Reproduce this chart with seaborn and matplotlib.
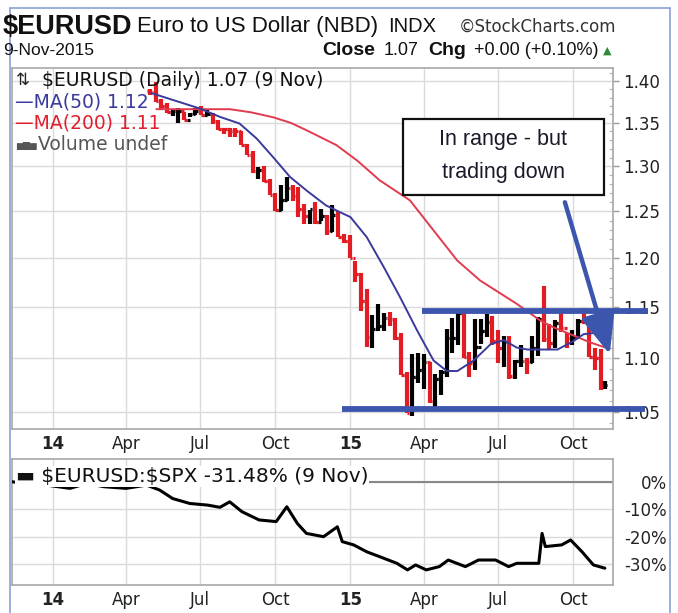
import matplotlib
matplotlib.use('Agg')
import matplotlib.pyplot as plt
import matplotlib.dates as mdates
from matplotlib.ticker import FixedLocator, NullFormatter
from matplotlib.patches import Rectangle
from matplotlib.lines import Line2D
import numpy as np
import pandas as pd
import seaborn as sns

# ---------------- data ----------------
# weekly OHLC of $EURUSD (week ending Friday), last entry is Mon 9-Nov-2015
week_end = list(pd.date_range('2014-05-02', '2015-11-06', freq='W-FRI').strftime('%Y-%m-%d')) + ['2015-11-09']
first_open = 1.3880
bar_high = [1.3905, 1.3993, 1.3780, 1.3734, 1.3670, 1.3677, 1.3630, 1.3615, 1.3678, 1.3700,
            1.3650, 1.3620, 1.3530, 1.3445, 1.3445, 1.3435, 1.3400, 1.3250, 1.3170, 1.2995,
            1.3000, 1.2860, 1.2700, 1.2790, 1.2885, 1.2790, 1.2770, 1.2580, 1.2520, 1.2600,
            1.2530, 1.2460, 1.2570, 1.2510, 1.2260,
            1.2250, 1.1970, 1.1850, 1.1680, 1.1425, 1.1535, 1.1445, 1.1450, 1.1390, 1.1245,
            1.0870, 1.1045, 1.1050, 1.1040, 1.0970, 1.0850, 1.0890, 1.1290, 1.1390, 1.1467,
            1.1440, 1.1060, 1.1380, 1.1385, 1.1435, 1.1410, 1.1280, 1.1215, 1.1215, 1.0985,
            1.1130, 1.1000, 1.1215, 1.1400, 1.1715, 1.1330, 1.1375, 1.1460, 1.1245, 1.1280,
            1.1385, 1.1495, 1.1390, 1.1105, 1.1095, 1.0785]
bar_low = [1.3830, 1.3750, 1.3648, 1.3615, 1.3585, 1.3503, 1.3530, 1.3565, 1.3590, 1.3590,
           1.3580, 1.3490, 1.3420, 1.3365, 1.3333, 1.3340, 1.3240, 1.3130, 1.2920, 1.2860,
           1.2825, 1.2680, 1.2500, 1.2500, 1.2610, 1.2615, 1.2440, 1.2360, 1.2360, 1.2360,
           1.2400, 1.2245, 1.2280, 1.2220, 1.2160,
           1.2000, 1.1755, 1.1460, 1.1115, 1.1100, 1.1265, 1.1270, 1.1315, 1.1175, 1.0840,
           1.0495, 1.0460, 1.0765, 1.0715, 1.0585, 1.0520, 1.0660, 1.0820, 1.1050, 1.1130,
           1.1000, 1.0820, 1.0890, 1.1135, 1.1210, 1.1130, 1.0955, 1.0915, 1.0810, 1.0810,
           1.0920, 1.0850, 1.0955, 1.1020, 1.1155, 1.1085, 1.1100, 1.1260, 1.1105, 1.1125,
           1.1195, 1.1330, 1.1015, 1.0895, 1.0705, 1.0710]
bar_close = [1.3870, 1.3755, 1.3695, 1.3630, 1.3635, 1.3642, 1.3540, 1.3605, 1.3645, 1.3595,
             1.3605, 1.3525, 1.3430, 1.3425, 1.3410, 1.3400, 1.3240, 1.3130, 1.2950, 1.2960,
             1.2830, 1.2685, 1.2520, 1.2630, 1.2760, 1.2670, 1.2525, 1.2450, 1.2525, 1.2390,
             1.2450, 1.2290, 1.2465, 1.2230, 1.2180,
             1.2000, 1.1840, 1.1565, 1.1205, 1.1290, 1.1315, 1.1390, 1.1380, 1.1195, 1.0845,
             1.0495, 1.0820, 1.0890, 1.0970, 1.0600, 1.0805, 1.0875, 1.1200, 1.1200, 1.1445,
             1.1015, 1.0955, 1.1110, 1.1265, 1.1350, 1.1165, 1.1105, 1.1160, 1.0830, 1.0980,
             1.0980, 1.0965, 1.1105, 1.1385, 1.1185, 1.1150, 1.1340, 1.1300, 1.1195, 1.1205,
             1.1360, 1.1350, 1.1015, 1.1005, 1.0740, 1.0750]

ma50_dates = ['2014-05-02', '2014-06-30', '2014-07-25', '2014-08-18', '2014-09-08', '2014-09-28',
              '2014-10-19', '2014-11-08', '2014-12-02', '2014-12-19', '2015-01-01', '2015-01-21',
              '2015-02-11', '2015-03-03', '2015-03-24', '2015-04-13', '2015-04-29', '2015-05-12',
              '2015-06-01', '2015-06-22', '2015-07-08', '2015-07-24', '2015-08-06', '2015-08-22',
              '2015-09-12', '2015-10-02', '2015-10-14', '2015-10-31', '2015-11-09']
ma50_values = [1.3854, 1.3671, 1.3571, 1.3493, 1.3318, 1.3106, 1.2880, 1.2731, 1.2566, 1.2493,
               1.2439, 1.2224, 1.1908, 1.1600, 1.1268, 1.0980, 1.0882, 1.0880, 1.0980, 1.1138,
               1.1177, 1.1105, 1.1086, 1.1086, 1.1086, 1.1170, 1.1235, 1.1251, 1.1250]

ma200_dates = ['2014-05-08', '2014-08-06', '2014-09-01', '2014-09-28', '2014-10-20', '2014-11-08',
               '2014-12-15', '2015-01-10', '2015-02-06', '2015-03-15', '2015-04-13', '2015-05-12',
               '2015-06-09', '2015-07-24', '2015-08-22', '2015-09-07', '2015-10-02', '2015-10-22',
               '2015-11-09']
ma200_values = [1.3662, 1.3662, 1.3625, 1.3567, 1.3500, 1.3415, 1.3241, 1.3060, 1.2842, 1.2621,
                1.2295, 1.1978, 1.1772, 1.1535, 1.1368, 1.1302, 1.1221, 1.1155, 1.1107]

ratio_dates = ['2013-11-12', '2013-12-05', '2013-12-24', '2014-01-22', '2014-02-12', '2014-03-05',
               '2014-04-01', '2014-04-26', '2014-05-12', '2014-05-28', '2014-06-18', '2014-07-10',
               '2014-07-25', '2014-08-06', '2014-08-21', '2014-09-11', '2014-10-02', '2014-10-15',
               '2014-10-28', '2014-11-08', '2014-11-29', '2014-12-16', '2014-12-22', '2015-01-05',
               '2015-01-21', '2015-02-06', '2015-02-27', '2015-03-12', '2015-03-22', '2015-04-04',
               '2015-04-20', '2015-05-01', '2015-05-22', '2015-06-07', '2015-06-28', '2015-07-14',
               '2015-07-24', '2015-08-20', '2015-08-24', '2015-08-28', '2015-09-17', '2015-09-28',
               '2015-10-12', '2015-10-26', '2015-11-09']
ratio_pct = [0.0, -0.8, -1.2, -2.4, -0.6, -1.8, -2.4, -1.2, -3.0, -6.1, -7.9, -8.5, -9.3, -7.3,
             -10.9, -13.9, -14.5, -9.1, -15.2, -18.8, -20.0, -16.4, -21.8, -23.0, -25.5, -27.3,
             -29.7, -32.1, -30.3, -32.1, -30.9, -28.5, -30.9, -28.5, -28.5, -30.9, -29.7, -29.7,
             -18.8, -23.6, -23.0, -21.2, -25.5, -30.3, -31.48]

price_ticks = [1.05, 1.10, 1.15, 1.20, 1.25, 1.30, 1.35, 1.40]
price_labels = ['1.05', '1.10', '1.15', '1.20', '1.25', '1.30', '1.35', '1.40']
pct_ticks = [0, -10, -20, -30]
pct_labels = ['0%', '-10%', '-20%', '-30%']
month_ticks = ['2014-01-01', '2014-04-01', '2014-07-01', '2014-10-01',
               '2015-01-01', '2015-04-01', '2015-07-01', '2015-10-01']
month_labels = ['14', 'Apr', 'Jul', 'Oct', '15', 'Apr', 'Jul', 'Oct']

range_top = 1.1459
range_bottom = 1.0525

# ---------------- style ----------------
sns.set_theme(style='white')
plt.rcParams['font.family'] = ['DejaVu Sans']

RED = '#e31b23'
MA50C = '#3a3a9c'
MA200C = '#e23b4e'
ANN = '#3d56ad'
GRID = '#dadada'
SPINE = '#a8a8a8'
NARROW = ['Liberation Sans Narrow', 'Liberation Sans', 'DejaVu Sans']
ARIAL = ['Liberation Sans', 'DejaVu Sans']

W, H = 678, 613
fig = plt.figure(figsize=(W / 100, H / 100), dpi=100)
fig.patch.set_facecolor('white')


def fx(x):
    return x / W


def fy(y):
    return 1 - y / H


ax = fig.add_axes([fx(12), fy(429), fx(613) - fx(12), fy(68) - fy(429)])
ax2 = fig.add_axes([fx(12), fy(585), fx(613) - fx(12), fy(459) - fy(585)])

xlim = (mdates.date2num(pd.Timestamp('2013-11-12')), mdates.date2num(pd.Timestamp('2015-11-19')))

# ---------------- price panel ----------------
ends = pd.to_datetime(week_end)
bx = mdates.date2num(ends) - 2.0
bx[-1] = mdates.date2num(ends[-1])
opens = np.array([first_open] + bar_close[:-1])
closes = np.array(bar_close)
cols = np.where(closes >= opens, 'black', RED)
ax.vlines(bx, bar_low, bar_high, colors=cols, lw=3.0, zorder=3)
ax.hlines(opens, bx - 3.2, bx, colors=cols, lw=2.3, zorder=3)
ax.hlines(closes, bx, bx + 3.2, colors=cols, lw=2.3, zorder=3)

sns.lineplot(x=pd.to_datetime(ma200_dates), y=ma200_values, ax=ax, color=MA200C, lw=1.4,
             estimator=None, sort=False, zorder=4)
sns.lineplot(x=pd.to_datetime(ma50_dates), y=ma50_values, ax=ax, color=MA50C, lw=1.4,
             estimator=None, sort=False, zorder=4)

ax.set_yscale('log')
ax.set_ylim(1.0346, 1.416)
ax.set_xlim(*xlim)
ax.yaxis.set_major_locator(FixedLocator(price_ticks))
ax.set_yticklabels(price_labels)
ax.yaxis.set_minor_locator(FixedLocator(np.arange(104, 142) / 100.0))
ax.yaxis.set_minor_formatter(NullFormatter())
ax.yaxis.tick_right()
ax.tick_params(axis='y', which='major', direction='out', length=4, width=1, color='#999999',
               labelsize=12, pad=3, labelcolor='#222222')
ax.tick_params(axis='y', which='minor', direction='in', length=3, width=0.8, color='#b5b5b5')
ax.set_xticks(mdates.date2num(pd.to_datetime(month_ticks)))
ax.set_xticklabels(month_labels)
ax.tick_params(axis='x', length=0, pad=4, labelsize=12, labelcolor='#222222')
ax.grid(True, which='major', color=GRID, lw=1.0)
ax.set_axisbelow(True)
ax.set_xlabel('')
ax.set_ylabel('')
for s in ax.spines.values():
    s.set_color(SPINE)
    s.set_linewidth(1.2)

# range lines and arrow
ax.plot(mdates.date2num(pd.to_datetime(['2015-03-30', '2016-01-01'])), [range_top, range_top],
        color=ANN, lw=4.2, clip_on=False, zorder=8, solid_capstyle='butt')
ax.plot(mdates.date2num(pd.to_datetime(['2014-12-22', '2015-12-28'])), [range_bottom, range_bottom],
        color=ANN, lw=4.2, clip_on=False, zorder=8, solid_capstyle='butt')
ax.annotate('', xy=(mdates.date2num(pd.Timestamp('2015-11-15')), 1.104),
            xytext=(mdates.date2num(pd.Timestamp('2015-09-21')), 1.260),
            arrowprops=dict(arrowstyle='-|>,head_length=1.8,head_width=0.75', color=ANN, lw=3.2,
                            mutation_scale=14, shrinkA=0, shrinkB=0),
            annotation_clip=False, zorder=8)

# ---------------- ratio panel ----------------
ax2.axhline(0, color='#888888', lw=1.5, zorder=2)
sns.lineplot(x=pd.to_datetime(ratio_dates), y=ratio_pct, ax=ax2, color='black', lw=2.2,
             estimator=None, sort=False, zorder=3)
ax2.set_xlim(*xlim)
ax2.set_ylim(-37.6, 8.3)
ax2.yaxis.tick_right()
ax2.set_yticks(pct_ticks)
ax2.set_yticklabels(pct_labels)
for lab in ax2.get_yticklabels():
    lab.set_horizontalalignment('right')
ax2.tick_params(axis='y', length=0, pad=39, labelsize=12, labelcolor='#222222')
ax2.set_xticks(mdates.date2num(pd.to_datetime(month_ticks)))
ax2.set_xticklabels(month_labels)
ax2.tick_params(axis='x', length=0, pad=4, labelsize=12, labelcolor='#222222')
ax2.grid(True, which='major', color=GRID, lw=1.0)
ax2.set_axisbelow(True)
ax2.set_xlabel('')
ax2.set_ylabel('')
for s in ax2.spines.values():
    s.set_color(SPINE)
    s.set_linewidth(1.2)

for a in (ax, ax2):
    for lab in a.get_xticklabels():
        if lab.get_text() in ('14', '15'):
            lab.set_fontweight('bold')

ax2.text(0.006, 0.86, '\u25ac \\$EURUSD:\\$SPX -31.48% (9 Nov)', transform=ax2.transAxes,
         fontsize=14.5, color='#111111', va='center', ha='left', zorder=5,
         bbox=dict(boxstyle='square,pad=0.05', fc='white', ec='none'))

# ---------------- legend texts in price panel ----------------
fig.text(fx(16), fy(80), '\u21c5', fontsize=12, color='#222222', va='center', ha='left')
fig.text(fx(42), fy(80), '$EURUSD (Daily) 1.07 (9 Nov)', fontsize=13.5, color='#111111',
         va='center', ha='left')
fig.text(fx(15), fy(101.5), '\u2014MA(50) 1.12', fontsize=13.5, color=MA50C, va='center', ha='left')
fig.text(fx(15), fy(123), '\u2014MA(200) 1.11', fontsize=13.5, color='#e0202e', va='center', ha='left')
fig.text(fx(16), fy(146), '\u2586\u2587\u2586', fontsize=6.5, color='#555555', va='center', ha='left')
fig.text(fx(38), fy(145), 'Volume undef', fontsize=13.5, color='#555555', va='center', ha='left')

# annotation box
fig.add_artist(Rectangle((fx(403), fy(195)), fx(604) - fx(403), fy(119) - fy(195),
                         transform=fig.transFigure, fc='white', ec='#111111', lw=1.6, zorder=5))
fig.text(fx(503.5), fy(140), 'In range - but', fontsize=15.5, family=ARIAL, color='#1a1a2a',
         ha='center', va='center', zorder=6)
fig.text(fx(503.5), fy(172), 'trading down', fontsize=15.5, family=ARIAL, color='#1a1a2a',
         ha='center', va='center', zorder=6)

# ---------------- header ----------------
fig.text(fx(3), fy(34), '$EURUSD', fontsize=19.5, fontweight='bold', family=NARROW, color='#111111',
         va='baseline', ha='left')
fig.text(fx(137), fy(32), 'Euro to US Dollar (NBD)', fontsize=16, family=NARROW, color='#111111',
         va='baseline', ha='left')
fig.text(fx(388), fy(32), 'INDX', fontsize=14.5, family=NARROW, color='#111111', va='baseline', ha='left')
fig.text(fx(459), fy(32), '\u00a9StockCharts.com', fontsize=12, family=['DejaVu Sans'],
         color='#333333', va='baseline', ha='left')
fig.text(fx(3), fy(55), '9-Nov-2015', fontsize=12.5, family=NARROW, color='#111111',
         va='baseline', ha='left')
fig.text(fx(322), fy(55), 'Close', fontsize=14, fontweight='bold', family=ARIAL, color='#111111',
         va='baseline', ha='left')
fig.text(fx(384), fy(55), '1.07', fontsize=13, family=ARIAL, color='#111111', va='baseline', ha='left')
fig.text(fx(428), fy(55), 'Chg', fontsize=14, fontweight='bold', family=ARIAL, color='#111111',
         va='baseline', ha='left')
fig.text(fx(474), fy(55), '+0.00 (+0.10%)', fontsize=13, family=ARIAL, color='#111111',
         va='baseline', ha='left')
fig.text(fx(603), fy(54), '\u25b2', fontsize=8, family=['DejaVu Sans'], color='#2e8b3a',
         va='baseline', ha='left')

# outer frame
for (x0, y0, x1, y1) in [(10, 8, 10, 613), (10, 8, 670, 8), (670, 8, 670, 613)]:
    fig.add_artist(Line2D([fx(x0), fx(x1)], [fy(y0), fy(y1)], transform=fig.transFigure,
                          color='#8aa0d8', lw=1.2))

fig.savefig('out.png', dpi=100, facecolor='white')
